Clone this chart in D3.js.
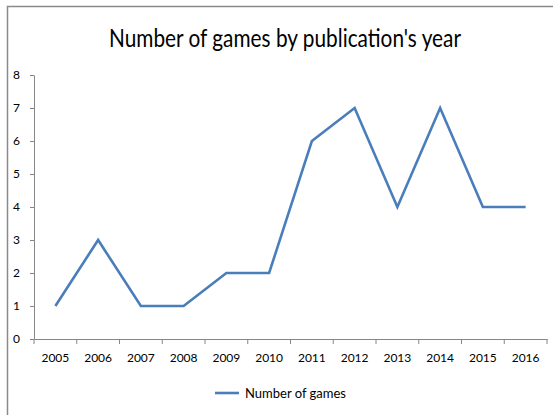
<!DOCTYPE html>
<html lang="en">
<head>
  <meta charset="UTF-8">
  <script src="https://d3js.org/d3.v7.min.js"></script>
  <style>
    body { margin: 0; background: #fff; }
    text { font-family: Lato, "Open Sans", sans-serif; }
  </style>
</head>
<body>
  <svg id="chart" width="553" height="415"></svg>
  <script>
    var years = ['2005','2006','2007','2008','2009','2010','2011','2012','2013','2014','2015','2016'];
    var games = [1, 3, 1, 1, 2, 2, 6, 7, 4, 7, 4, 4];
    var yTicks = [0, 1, 2, 3, 4, 5, 6, 7, 8];
    var fontF = 'Lato, "Open Sans", sans-serif';

    var svg = d3.select('#chart');
    // chart frame: only left and top edges are visible
    svg.append('path').attr('d', 'M7.5,415 L7.5,6.5 L553,6.5')
      .attr('fill', 'none').attr('stroke', '#8a8a8a').attr('stroke-width', 1.5);

    svg.append('text').attr('x', 285).attr('y', 47).attr('text-anchor', 'middle')
      .attr('font-size', 25).attr('fill', '#000')
      .attr('textLength', 352).attr('lengthAdjust', 'spacingAndGlyphs')
      .text("Number of games by publication's year");

    var scX = d3.scaleBand().domain(years).range([34, 547]);
    var scY = d3.scaleLinear().domain([0, 8]).range([339, 75]);

    var yAx = svg.append('g').attr('transform', 'translate(34,0)')
      .call(d3.axisLeft(scY).tickValues(yTicks).tickSize(4).tickSizeOuter(0).tickPadding(10));
    var xAx = svg.append('g').attr('transform', 'translate(0,339)')
      .call(d3.axisBottom(scX).tickSize(0).tickPadding(14));
    // category boundary ticks
    xAx.selectAll('line.sep').data(years.concat(['end'])).enter().append('line')
      .attr('class', 'sep')
      .attr('x1', (d, i) => 34 + i * scX.step()).attr('x2', (d, i) => 34 + i * scX.step())
      .attr('y1', 0).attr('y2', 5).attr('stroke', '#868686');
    [yAx, xAx].forEach(a => {
      a.selectAll('path, line').attr('stroke', '#868686');
      a.selectAll('text').attr('font-size', 12).attr('fill', '#000').style('font-family', fontF);
    });

    var line = d3.line().x((d, i) => scX(years[i]) + scX.bandwidth() / 2).y(d => scY(d));
    svg.append('path').datum(games).attr('d', line).attr('fill', 'none')
      .attr('stroke', '#4a7ebb').attr('stroke-width', 2.6).attr('stroke-linejoin', 'miter');

    var lg = svg.append('g').attr('transform', 'translate(215,393)');
    lg.append('line').attr('x1', 0).attr('x2', 24).attr('y1', 0).attr('y2', 0)
      .attr('stroke', '#4a7ebb').attr('stroke-width', 2.6);
    lg.append('text').attr('x', 30).attr('y', 4.5).attr('font-size', 13).attr('fill', '#000')
      .text('Number of games');
  </script>
</body>
</html>
